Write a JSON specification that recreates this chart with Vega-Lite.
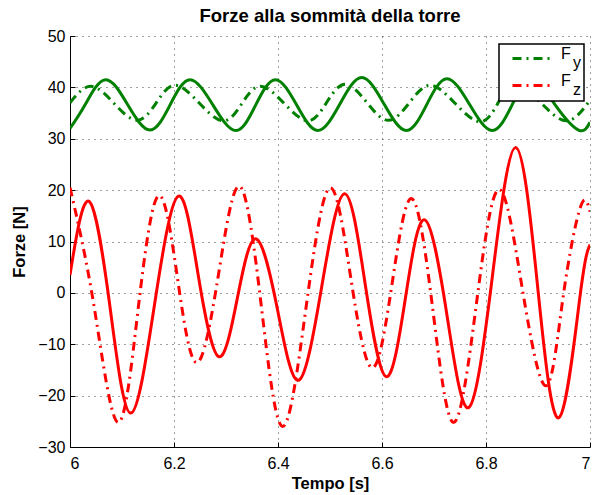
{
  "$schema": "https://vega.github.io/schema/vega-lite/v6.json",
  "width": 520,
  "height": 411,
  "autosize": {"type": "none"},
  "padding": {"left": 70, "top": 36, "right": 2, "bottom": 48},
  "background": "white",
  "title": {"text": "Forze alla sommità della torre", "fontSize": 18.5, "font": "Liberation Sans", "fontWeight": "bold", "color": "black", "offset": 3, "anchor": "middle"},
  "config": {
    "view": {"stroke": null},
    "axis": {
      "domainColor": "#000", "domainWidth": 1, "tickColor": "#000", "tickSize": -5, "tickWidth": 1,
      "labelFont": "Liberation Sans", "labelFontSize": 16, "labelColor": "#000",
      "titleFont": "Liberation Sans", "titleFontSize": 16.5, "titleFontWeight": "bold", "titleColor": "#000",
      "gridColor": "#000", "gridDash": [1, 5], "gridOpacity": 0.75, "gridWidth": 1
    },
    "legend": {
      "orient": "none", "legendX": 429, "legendY": 8, "strokeColor": "#000", "strokeWidth": 1.5, "fillColor": "white", "padding": 3,
      "symbolType": "M-0.6,0H3.5", "symbolSize": 400, "symbolStrokeWidth": 3, "symbolDash": [9, 5, 2, 5], "symbolOffset": 5,
      "labelFont": "Liberation Sans", "labelFontSize": 16, "labelColor": "#000", "labelBaseline": "alphabetic", "rowPadding": 1, "labelOffset": 31
    }
  },
  "data": {"values": [
    {"t": 6.0, "v": 37.0, "comp": "Fy", "stile": "tratteggio"},
    {"t": 6.04, "v": 40.2, "comp": "Fy", "stile": "tratteggio"},
    {"t": 6.0845, "v": 36.9, "comp": "Fy", "stile": "tratteggio"},
    {"t": 6.129, "v": 33.6, "comp": "Fy", "stile": "tratteggio"},
    {"t": 6.1655, "v": 36.95, "comp": "Fy", "stile": "tratteggio"},
    {"t": 6.202, "v": 40.4, "comp": "Fy", "stile": "tratteggio"},
    {"t": 6.2485, "v": 36.95, "comp": "Fy", "stile": "tratteggio"},
    {"t": 6.295, "v": 33.5, "comp": "Fy", "stile": "tratteggio"},
    {"t": 6.3305, "v": 36.85, "comp": "Fy", "stile": "tratteggio"},
    {"t": 6.366, "v": 40.2, "comp": "Fy", "stile": "tratteggio"},
    {"t": 6.412, "v": 36.85, "comp": "Fy", "stile": "tratteggio"},
    {"t": 6.458, "v": 33.5, "comp": "Fy", "stile": "tratteggio"},
    {"t": 6.4935, "v": 37.05, "comp": "Fy", "stile": "tratteggio"},
    {"t": 6.529, "v": 40.6, "comp": "Fy", "stile": "tratteggio"},
    {"t": 6.5705, "v": 37.1, "comp": "Fy", "stile": "tratteggio"},
    {"t": 6.612, "v": 33.6, "comp": "Fy", "stile": "tratteggio"},
    {"t": 6.6525, "v": 37.0, "comp": "Fy", "stile": "tratteggio"},
    {"t": 6.693, "v": 40.4, "comp": "Fy", "stile": "tratteggio"},
    {"t": 6.741, "v": 36.85, "comp": "Fy", "stile": "tratteggio"},
    {"t": 6.789, "v": 33.3, "comp": "Fy", "stile": "tratteggio"},
    {"t": 6.8225, "v": 36.85, "comp": "Fy", "stile": "tratteggio"},
    {"t": 6.856, "v": 40.4, "comp": "Fy", "stile": "tratteggio"},
    {"t": 6.906, "v": 36.95, "comp": "Fy", "stile": "tratteggio"},
    {"t": 6.956, "v": 33.5, "comp": "Fy", "stile": "tratteggio"},
    {"t": 7.0, "v": 37.5, "comp": "Fy", "stile": "tratteggio"},

    {"t": 6.0, "v": 32.0, "comp": "Fy", "stile": "continua"},
    {"t": 6.029, "v": 36.6, "comp": "Fy", "stile": "continua"},
    {"t": 6.068, "v": 41.5, "comp": "Fy", "stile": "continua"},
    {"t": 6.111, "v": 36.6, "comp": "Fy", "stile": "continua"},
    {"t": 6.154, "v": 31.7, "comp": "Fy", "stile": "continua"},
    {"t": 6.1925, "v": 36.6, "comp": "Fy", "stile": "continua"},
    {"t": 6.231, "v": 41.5, "comp": "Fy", "stile": "continua"},
    {"t": 6.275, "v": 36.55, "comp": "Fy", "stile": "continua"},
    {"t": 6.319, "v": 31.6, "comp": "Fy", "stile": "continua"},
    {"t": 6.357, "v": 36.55, "comp": "Fy", "stile": "continua"},
    {"t": 6.395, "v": 41.5, "comp": "Fy", "stile": "continua"},
    {"t": 6.436, "v": 36.55, "comp": "Fy", "stile": "continua"},
    {"t": 6.477, "v": 31.6, "comp": "Fy", "stile": "continua"},
    {"t": 6.519, "v": 36.75, "comp": "Fy", "stile": "continua"},
    {"t": 6.561, "v": 41.9, "comp": "Fy", "stile": "continua"},
    {"t": 6.604, "v": 36.75, "comp": "Fy", "stile": "continua"},
    {"t": 6.647, "v": 31.6, "comp": "Fy", "stile": "continua"},
    {"t": 6.686, "v": 36.65, "comp": "Fy", "stile": "continua"},
    {"t": 6.725, "v": 41.7, "comp": "Fy", "stile": "continua"},
    {"t": 6.7685, "v": 36.65, "comp": "Fy", "stile": "continua"},
    {"t": 6.812, "v": 31.6, "comp": "Fy", "stile": "continua"},
    {"t": 6.85, "v": 36.55, "comp": "Fy", "stile": "continua"},
    {"t": 6.888, "v": 41.5, "comp": "Fy", "stile": "continua"},
    {"t": 6.933, "v": 36.6, "comp": "Fy", "stile": "continua"},
    {"t": 6.978, "v": 31.7, "comp": "Fy", "stile": "continua"},
    {"t": 7.0, "v": 33.2, "comp": "Fy", "stile": "continua"},

    {"t": 6.0, "v": 20.5, "comp": "Fz", "stile": "tratteggio"},
    {"t": 6.046, "v": -2.45, "comp": "Fz", "stile": "tratteggio"},
    {"t": 6.092, "v": -25.2, "comp": "Fz", "stile": "tratteggio"},
    {"t": 6.131, "v": -3.15, "comp": "Fz", "stile": "tratteggio"},
    {"t": 6.17, "v": 18.9, "comp": "Fz", "stile": "tratteggio"},
    {"t": 6.207, "v": 2.65, "comp": "Fz", "stile": "tratteggio"},
    {"t": 6.244, "v": -13.6, "comp": "Fz", "stile": "tratteggio"},
    {"t": 6.2855, "v": 3.55, "comp": "Fz", "stile": "tratteggio"},
    {"t": 6.327, "v": 20.7, "comp": "Fz", "stile": "tratteggio"},
    {"t": 6.368, "v": -2.65, "comp": "Fz", "stile": "tratteggio"},
    {"t": 6.409, "v": -26.0, "comp": "Fz", "stile": "tratteggio"},
    {"t": 6.454, "v": -2.8, "comp": "Fz", "stile": "tratteggio"},
    {"t": 6.499, "v": 20.4, "comp": "Fz", "stile": "tratteggio"},
    {"t": 6.54, "v": 2.9, "comp": "Fz", "stile": "tratteggio"},
    {"t": 6.581, "v": -14.6, "comp": "Fz", "stile": "tratteggio"},
    {"t": 6.6195, "v": 1.85, "comp": "Fz", "stile": "tratteggio"},
    {"t": 6.658, "v": 18.3, "comp": "Fz", "stile": "tratteggio"},
    {"t": 6.698, "v": -3.45, "comp": "Fz", "stile": "tratteggio"},
    {"t": 6.738, "v": -25.2, "comp": "Fz", "stile": "tratteggio"},
    {"t": 6.781, "v": -2.55, "comp": "Fz", "stile": "tratteggio"},
    {"t": 6.824, "v": 20.1, "comp": "Fz", "stile": "tratteggio"},
    {"t": 6.8695, "v": 1.0, "comp": "Fz", "stile": "tratteggio"},
    {"t": 6.915, "v": -18.1, "comp": "Fz", "stile": "tratteggio"},
    {"t": 6.9485, "v": -0.65, "comp": "Fz", "stile": "tratteggio"},
    {"t": 6.982, "v": 16.8, "comp": "Fz", "stile": "tratteggio"},
    {"t": 7.0, "v": 15.8, "comp": "Fz", "stile": "tratteggio"},

    {"t": 6.0, "v": 3.5, "comp": "Fz", "stile": "continua"},
    {"t": 6.037, "v": 17.8, "comp": "Fz", "stile": "continua"},
    {"t": 6.077, "v": -2.8, "comp": "Fz", "stile": "continua"},
    {"t": 6.117, "v": -23.4, "comp": "Fz", "stile": "continua"},
    {"t": 6.1625, "v": -2.3, "comp": "Fz", "stile": "continua"},
    {"t": 6.208, "v": 18.8, "comp": "Fz", "stile": "continua"},
    {"t": 6.247, "v": 3.2, "comp": "Fz", "stile": "continua"},
    {"t": 6.286, "v": -12.4, "comp": "Fz", "stile": "continua"},
    {"t": 6.322, "v": -0.95, "comp": "Fz", "stile": "continua"},
    {"t": 6.358, "v": 10.5, "comp": "Fz", "stile": "continua"},
    {"t": 6.399, "v": -3.25, "comp": "Fz", "stile": "continua"},
    {"t": 6.44, "v": -17.0, "comp": "Fz", "stile": "continua"},
    {"t": 6.484, "v": 1.15, "comp": "Fz", "stile": "continua"},
    {"t": 6.528, "v": 19.3, "comp": "Fz", "stile": "continua"},
    {"t": 6.568, "v": 1.5, "comp": "Fz", "stile": "continua"},
    {"t": 6.608, "v": -16.3, "comp": "Fz", "stile": "continua"},
    {"t": 6.645, "v": -1.05, "comp": "Fz", "stile": "continua"},
    {"t": 6.682, "v": 14.2, "comp": "Fz", "stile": "continua"},
    {"t": 6.7245, "v": -4.05, "comp": "Fz", "stile": "continua"},
    {"t": 6.767, "v": -22.3, "comp": "Fz", "stile": "continua"},
    {"t": 6.812, "v": 3.0, "comp": "Fz", "stile": "continua"},
    {"t": 6.857, "v": 28.3, "comp": "Fz", "stile": "continua"},
    {"t": 6.8985, "v": 2.0, "comp": "Fz", "stile": "continua"},
    {"t": 6.94, "v": -24.3, "comp": "Fz", "stile": "continua"},
    {"t": 6.981, "v": -0.5, "comp": "Fz", "stile": "continua"},
    {"t": 7.0, "v": 9.4, "comp": "Fz", "stile": "continua"}
  ]},
  "encoding": {
    "x": {"field": "t", "type": "quantitative", "scale": {"domain": [6, 7], "nice": false}, "axis": {"title": "Tempo [s]", "values": [6, 6.2, 6.4, 6.6, 6.8, 7], "format": "~f", "labelPadding": 13, "titlePadding": 4}},
    "y": {"field": "v", "type": "quantitative", "scale": {"domain": [-30, 50], "nice": false}, "axis": {"title": "Forze [N]", "values": [-30, -20, -10, 0, 10, 20, 30, 40, 50], "format": "d", "labelPadding": 10, "titlePadding": 10}}
  },
  "layer": [
    {
      "transform": [{"filter": "datum.stile == 'tratteggio'"}],
      "mark": {"type": "line", "strokeWidth": 3, "interpolate": "natural", "strokeDash": [9, 5, 2, 5], "clip": true},
      "encoding": {
        "color": {"field": "comp", "type": "nominal", "scale": {"domain": ["Fy", "Fz"], "range": ["#008000", "#ff0000"]},
          "legend": {"title": null, "labelExpr": "datum.label == 'Fy' ? ['F', '\u2800y'] : ['F', '\u2800z']",
            "encoding": {"labels": {"lineHeight": {"value": 9}}}}}
      }
    },
    {
      "transform": [{"filter": "datum.stile == 'continua' && datum.comp == 'Fy'"}],
      "mark": {"type": "line", "strokeWidth": 3, "interpolate": "natural", "color": "#008000", "clip": true},
      "encoding": {}
    },
    {
      "transform": [{"filter": "datum.stile == 'continua' && datum.comp == 'Fz'"}],
      "mark": {"type": "line", "strokeWidth": 3, "interpolate": "natural", "color": "#ff0000", "clip": true},
      "encoding": {}
    }
  ]
}
